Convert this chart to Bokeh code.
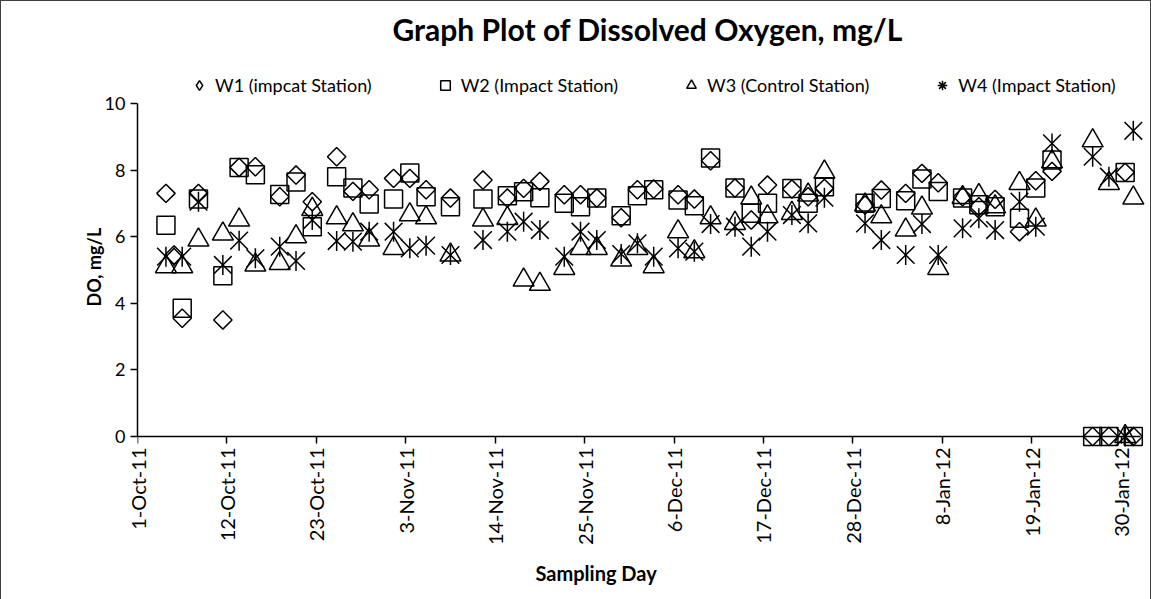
import numpy as np
import pandas as pd
from bokeh.plotting import figure
from bokeh.models import Legend, LegendItem, Range1d, FixedTicker, LinearAxis, Title
from bokeh.embed import file_html
from bokeh.resources import INLINE

FONT = "Lato"

dates = ["2011-10-04", "2011-10-05", "2011-10-06", "2011-10-08", "2011-10-11", "2011-10-13",
         "2011-10-15", "2011-10-18", "2011-10-20", "2011-10-22", "2011-10-25", "2011-10-27",
         "2011-10-29", "2011-11-01", "2011-11-03", "2011-11-05", "2011-11-08", "2011-11-12",
         "2011-11-15", "2011-11-17", "2011-11-19", "2011-11-22", "2011-11-24", "2011-11-26",
         "2011-11-29", "2011-12-01", "2011-12-03", "2011-12-06", "2011-12-08", "2011-12-10",
         "2011-12-13", "2011-12-15", "2011-12-17", "2011-12-20", "2011-12-22", "2011-12-24",
         "2011-12-29", "2011-12-31", "2012-01-03", "2012-01-05", "2012-01-07", "2012-01-10",
         "2012-01-12", "2012-01-14", "2012-01-17", "2012-01-19", "2012-01-21", "2012-01-26",
         "2012-01-28", "2012-01-30", "2012-01-31"]

nan = float("nan")

w1 = [7.3, 5.45, 3.55, 7.3, 3.5, 8.08, 8.1, 7.2, 7.85, 7.05, 8.4, 7.36, 7.41,
      7.75, 7.75, 7.41, 7.16, 7.7, 7.16, 7.45, 7.66, 7.26, 7.26, 7.16, 6.57,
      7.41, 7.43, 7.26, 7.13, 8.28, 7.46, 6.5, 7.55, 7.43, 7.2, 7.45, 6.95, 7.4,
      7.3, 7.9, 7.62, 7.2, 6.9, 7.12, 6.15, 7.68, 7.96, 0, 0, 7.93, 0]

w2 = [6.34, nan, 3.85, 7.13, 4.83, 8.08, 7.86, 7.27, 7.64, 6.3, 7.8, 7.46, 6.98,
      7.13, 7.91, 7.2, 6.9, 7.13, 7.23, 7.35, 7.17, 7.0, 6.9, 7.16, 6.63,
      7.23, 7.41, 7.1, 6.93, 8.36, 7.46, 6.7, 7.0, 7.45, 7.0, 7.5, 7.0, 7.15,
      7.08, 7.73, 7.36, 7.16, 6.96, 6.9, 6.55, 7.46, 8.3, 0, 0, 7.93, 0]

w3 = [5.1, nan, 5.1, 5.9, 6.08, 6.5, 5.15, 5.2, 6.0, 6.82, 6.57, 6.36, 5.9,
      5.65, 6.66, 6.57, 5.45, 6.5, 6.55, 4.7, 4.57, 5.05, 5.65, 5.65, 5.3,
      5.65, 5.1, 6.15, 5.55, 6.57, 6.4, 7.16, 6.6, 6.7, 7.25, 7.94, 6.95, 6.6,
      6.2, 6.86, 5.05, 7.18, 7.24, 6.9, 7.6, 6.5, 8.25, 8.88, 7.6, 0, 7.16]

w4 = [5.4, nan, 5.4, 7.05, 5.15, 5.88, 5.35, 5.7, 5.27, 6.5, 5.87, 5.85, 6.15,
      6.15, 5.65, 5.73, 5.45, 5.9, 6.15, 6.45, 6.2, 5.4, 6.15, 5.9, 5.48,
      5.8, 5.4, 5.65, 5.55, 6.38, 6.3, 5.7, 6.15, 6.65, 6.4, 7.17, 6.4, 5.9,
      5.45, 6.38, 5.45, 6.25, 6.55, 6.2, 7.05, 6.3, 8.8, 8.4, 7.8, 0, 9.18]

series_labels = ["W1 (impcat Station)", "W2 (Impact Station)",
                 "W3 (Control Station)", "W4 (Impact Station)"]

tick_labels = ["1-Oct-11", "12-Oct-11", "23-Oct-11", "3-Nov-11", "14-Nov-11", "25-Nov-11",
               "6-Dec-11", "17-Dec-11", "28-Dec-11", "8-Jan-12", "19-Jan-12", "30-Jan-12"]

y_ticks = [0, 2, 4, 6, 8, 10]

# day offsets from the axis origin (each day is a slot; points sit mid-slot)
start = pd.Timestamp("2011-10-01")
x = [(pd.Timestamp(d) - start).days + 0.5 for d in dates]
tick_pos = [(pd.to_datetime(t, format="%d-%b-%y") - start).days for t in tick_labels]

p = figure(frame_width=1008, frame_height=398, x_range=Range1d(0, 124),
           y_range=Range1d(-0.45, 11.5), x_axis_location=None,
           output_backend="svg", toolbar_location=None,
           min_border_left=136, min_border_right=5, min_border_top=51, min_border_bottom=148)
p.outline_line_color = None
p.xgrid.visible = False
p.ygrid.visible = False
p.background_fill_color = "white"
p.border_fill_color = "white"

p.title.text = "Graph Plot of Dissolved Oxygen, mg/L"
p.title.align = "left"
p.title.offset = 255
p.title.text_font = FONT
p.title.text_font_size = "30px"
p.title.text_font_style = "bold"
p.title.text_color = "black"
p.title.standoff = 14

common = dict(fill_color=None, line_color="black", line_width=1.5)
r1 = p.scatter(x, w1, marker="square", angle=np.pi / 4, size=13, **common)
r2 = p.scatter(x, w2, marker="square", size=18, **common)
r3 = p.scatter(x, w3, marker="triangle", size=21, **common)
r4a = p.scatter(x, w4, marker="x", size=25, **common)
r4b = p.scatter(x, w4, marker="dash", angle=np.pi / 2, size=20, **common)
# legend-only glyphs (size 0 in the plot; the legend draws its own size)
r1_key = p.scatter(x, w1, marker="diamond", size=0, **common)
r4_key = p.scatter(x, w4, marker="asterisk", size=0, **common)

# x axis: tick labels (at the frame bottom, pulled up to the zero line)
ax_lab = LinearAxis(ticker=FixedTicker(ticks=tick_pos))
ax_lab.major_label_overrides = {tp: lab for tp, lab in zip(tick_pos, tick_labels)}
ax_lab.major_label_orientation = np.pi / 2
ax_lab.axis_line_color = None
ax_lab.major_tick_line_color = None
ax_lab.minor_tick_line_color = None
ax_lab.major_tick_in = 0
ax_lab.major_tick_out = 0
ax_lab.major_label_standoff = -4
ax_lab.major_label_text_font = FONT
ax_lab.major_label_text_font_size = "20px"
ax_lab.major_label_text_color = "black"
p.add_layout(ax_lab, "below")

# x axis: line and ticks on the zero line
ax_fix = LinearAxis(ticker=FixedTicker(ticks=tick_pos))
ax_fix.major_label_overrides = {tp: "" for tp in tick_pos}
ax_fix.major_label_text_font_size = "1px"
ax_fix.fixed_location = 0
ax_fix.bounds = (0, 123.4)
ax_fix.minor_tick_line_color = None
ax_fix.major_tick_in = 0
ax_fix.major_tick_out = 7
ax_fix.major_label_standoff = 10
ax_fix.axis_line_width = 1.5
ax_fix.major_tick_line_width = 1.5
ax_fix.axis_line_color = "black"
ax_fix.major_tick_line_color = "black"
p.add_layout(ax_fix, "below")

p.add_layout(Title(text="Sampling Day", align="left", offset=398,
                   text_font=FONT, text_font_size="20px", text_font_style="bold",
                   text_color="black", standoff=20), "below")

ya = p.yaxis[0]
ya.ticker = FixedTicker(ticks=y_ticks)
ya.bounds = (0, 10)
ya.minor_tick_line_color = None
ya.major_tick_in = 0
ya.major_tick_out = 7
ya.axis_line_width = 1.5
ya.major_tick_line_width = 1.5
ya.axis_line_color = "black"
ya.major_tick_line_color = "black"
ya.major_label_text_font = FONT
ya.major_label_text_font_size = "18px"
ya.major_label_text_color = "black"
ya.major_label_standoff = 5

p.add_layout(Title(text="DO, mg/L", align="left", offset=145,
                   text_font=FONT, text_font_size="18px", text_font_style="bold",
                   text_color="black", standoff=-6), "left")

legend = Legend(items=[LegendItem(label=series_labels[0], renderers=[r1_key]),
                       LegendItem(label=series_labels[1], renderers=[r2]),
                       LegendItem(label=series_labels[2], renderers=[r3]),
                       LegendItem(label=series_labels[3], renderers=[r4_key])],
                orientation="horizontal", location=(50, 354),
                glyph_width=24, glyph_height=24, label_standoff=4, spacing=61,
                padding=6, margin=0, border_line_color=None, background_fill_alpha=0,
                label_text_font=FONT, label_text_font_size="18px", label_height=20,
                label_text_color="black")
p.add_layout(legend, "center")

p.styles = {"border": "1px solid #404040"}

open("out.html", "w").write(file_html(p, INLINE))
